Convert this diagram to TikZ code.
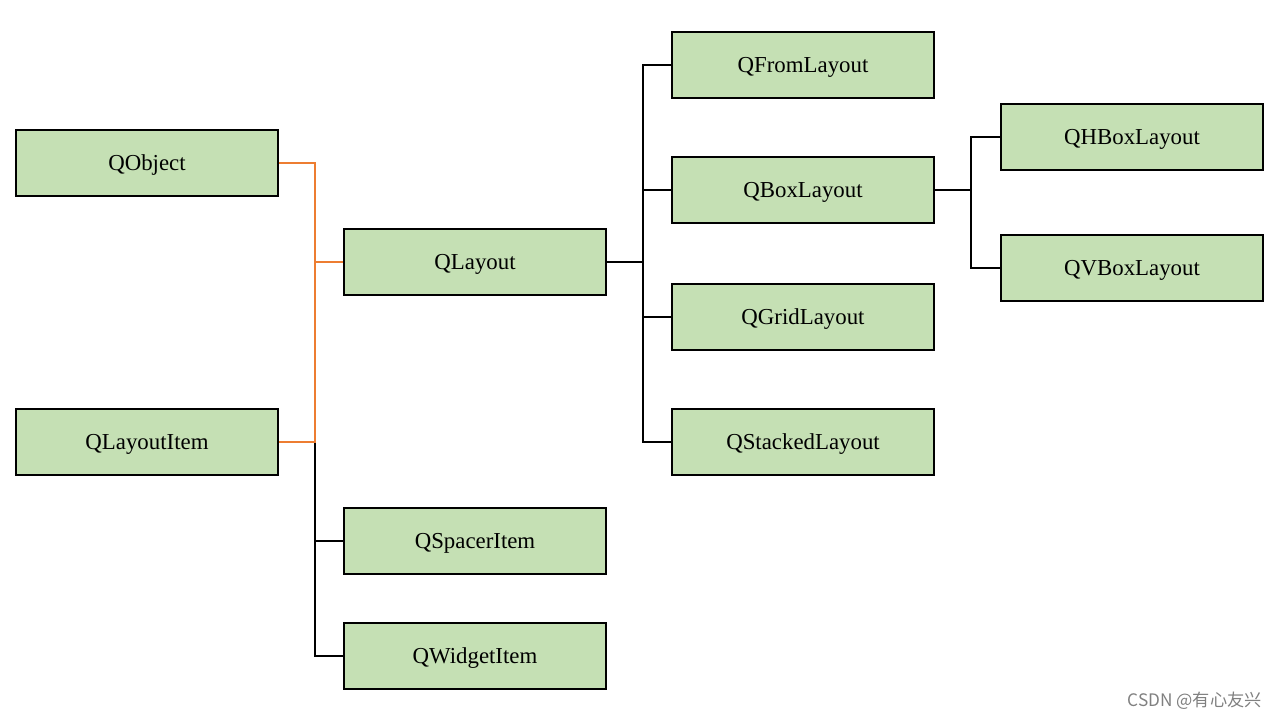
\documentclass[tikz,border=0pt]{standalone}
\usepackage{fontspec}
\setmainfont{Liberation Serif}
\newfontfamily\cjkfont{Noto Sans CJK SC}
\usetikzlibrary{positioning}
\definecolor{boxgreen}{HTML}{C5E0B4}
\definecolor{linkorange}{HTML}{ED7D31}

\begin{document}
\begin{tikzpicture}[x=0.02cm, y=-0.02cm,
    cls/.style={draw, fill=boxgreen, line width=1.1pt, minimum width=5.24cm,
      minimum height=1.32cm, inner sep=0pt, text height=1.1em, text depth=0.21em,
      font=\fontsize{13}{15}\selectfont},
    link/.style={line width=1.15pt},
    trunk/.style={line width=1.7pt}]
    \useasboundingbox (0,0) rectangle (1280,720);

    % Left column
    \node[cls] (qobject) at (147,163) {QObject};
    \node[cls] (qlayoutitem) at (147,442) {QLayoutItem};

    % Middle column
    \node[cls] (qlayout) at (475,262) {QLayout};
    \node[cls] (qspaceritem) at (475,541) {QSpacerItem};
    \node[cls] (qwidgetitem) at (475,656) {QWidgetItem};

    % Layout subclasses
    \node[cls] (qfromlayout) at (803,65) {QFromLayout};
    \node[cls] (qboxlayout) at (803,190) {QBoxLayout};
    \node[cls] (qgridlayout) at (803,317) {QGridLayout};
    \node[cls] (qstackedlayout) at (803,442) {QStackedLayout};

    % Box layouts
    \node[cls] (qhboxlayout) at (1132,137) {QHBoxLayout};
    \node[cls] (qvboxlayout) at (1132,268) {QVBoxLayout};

    % Junction points
    \coordinate (jlayout) at (315,262);
    \coordinate (jitem) at (315,442);
    \coordinate (jsub) at (643,262);
    \coordinate (jbox) at (971,190);

    % Item subclasses (black)
    \draw[link] (jitem) |- (qspaceritem.west);
    \draw[link] (jitem) |- (qwidgetitem.west);

    % Parents of QLayout (orange)
    \draw[link, linkorange] (qobject.east) -| (jlayout) -- (qlayout.west);
    \draw[link, linkorange] (qlayoutitem.east) -| (jlayout);

    % QLayout tree
    \draw[trunk] (qlayout.east) -- (jsub);
    \foreach \n in {qfromlayout, qboxlayout, qgridlayout, qstackedlayout}
        \draw[link] (jsub) |- (\n.west);

    % QBoxLayout tree
    \draw[trunk] (qboxlayout.east) -- (jbox);
    \foreach \n in {qhboxlayout, qvboxlayout}
        \draw[link] (jbox) |- (\n.west);

    % Watermark
    \node[anchor=east, text=black!50, font=\cjkfont\fontsize{9.8}{12}\selectfont]
        (mark) at (1268,701) {CSDN @有心友兴};
\end{tikzpicture}
\end{document}
